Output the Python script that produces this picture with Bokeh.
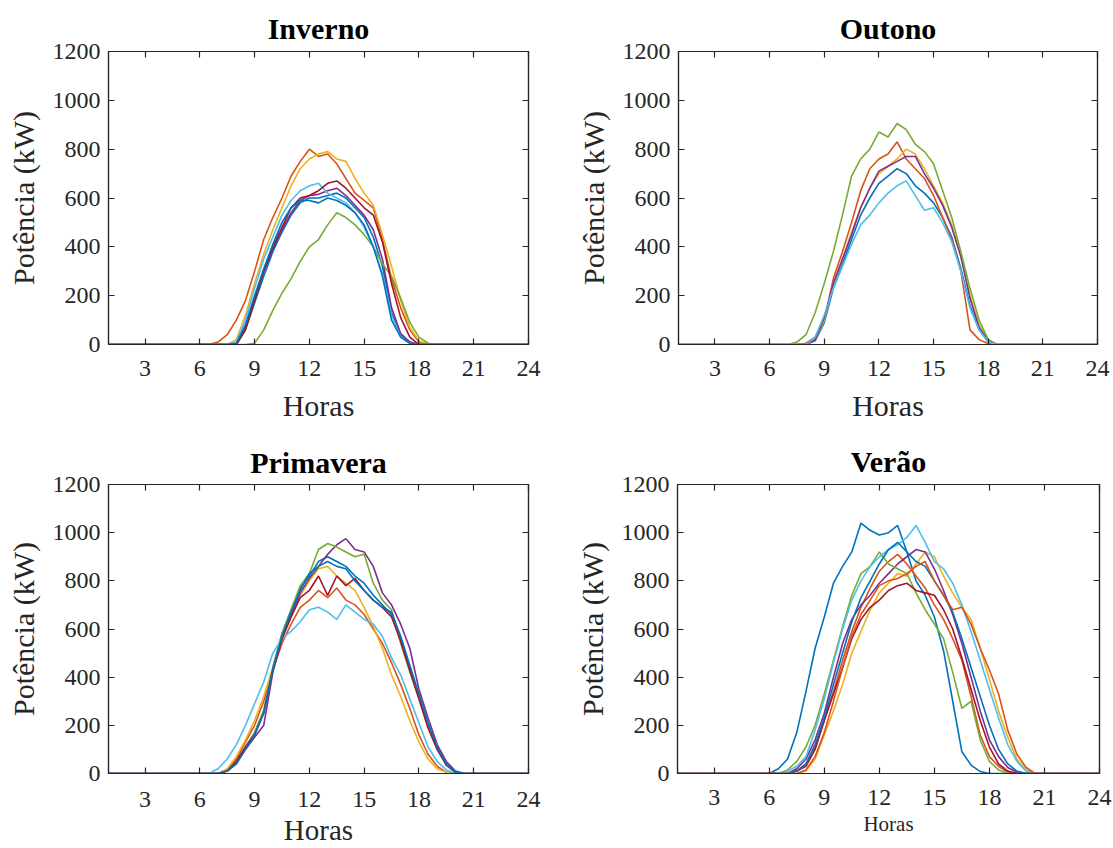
from bokeh.plotting import figure
from bokeh.models import Range1d, FixedTicker, LinearAxis
from bokeh.layouts import column, row
from bokeh.embed import file_html
from bokeh.resources import INLINE

# ---------------- data ----------------
HOURS = [1,
         5.5, 6, 6.5, 7, 7.5, 8,
         8.5, 9, 9.5, 10, 10.5, 11, 11.5, 12, 12.5, 13,
         13.5, 14, 14.5, 15, 15.5, 16, 16.5, 17, 17.5, 18,
         18.5, 19, 19.5, 20, 20.5, 21,
         24]

X_TICKS = [3, 6, 9, 12, 15, 18, 21, 24]
Y_TICKS = [0, 200, 400, 600, 800, 1000, 1200]
X_MIN, X_MAX = 1, 24
Y_MIN, Y_MAX = 0, 1200

COLORS = ["#0072BD", "#D95319", "#EDB120", "#7E2F8E", "#77AC30", "#4DBEEE", "#A2142F"]

# Inverno (8 days)
INV_1 = [0, 0, 0, 0, 0, 0, 0, 60, 170, 280, 380, 460, 530, 580, 600, 600, 610, 620, 600, 560, 520, 440, 320, 130, 40, 10, 0, 0, 0, 0, 0, 0, 0, 0]
INV_2 = [0, 0, 0, 0, 10, 40, 100, 180, 300, 430, 520, 600, 690, 750, 800, 770, 780, 740, 680, 620, 590, 560, 430, 270, 150, 60, 10, 0, 0, 0, 0, 0, 0, 0]
INV_3 = [0, 0, 0, 0, 0, 0, 20, 120, 250, 370, 470, 560, 650, 720, 760, 780, 790, 760, 750, 680, 620, 570, 450, 320, 180, 70, 15, 0, 0, 0, 0, 0, 0, 0]
INV_4 = [0, 0, 0, 0, 0, 0, 0, 70, 190, 300, 390, 470, 540, 590, 610, 615, 630, 640, 610, 570, 530, 470, 350, 150, 45, 10, 0, 0, 0, 0, 0, 0, 0, 0]
INV_5 = [0, 0, 0, 0, 0, 0, 0, 0, 5, 60, 140, 210, 270, 340, 400, 430, 490, 540, 520, 490, 450, 400, 330, 280, 190, 90, 30, 5, 0, 0, 0, 0, 0, 0]
INV_6 = [0, 0, 0, 0, 0, 0, 10, 100, 230, 350, 440, 530, 590, 630, 650, 660, 620, 600, 580, 540, 480, 400, 290, 120, 30, 5, 0, 0, 0, 0, 0, 0, 0, 0]
INV_7 = [0, 0, 0, 0, 0, 0, 0, 60, 180, 300, 400, 480, 560, 600, 610, 630, 660, 670, 640, 600, 560, 530, 420, 250, 110, 30, 0, 0, 0, 0, 0, 0, 0, 0]
INV_8 = [0, 0, 0, 0, 0, 0, 5, 80, 200, 310, 410, 500, 560, 590, 590, 580, 600, 590, 570, 540, 490, 400, 280, 100, 30, 5, 0, 0, 0, 0, 0, 0, 0, 0]

# Outono (6 days)
OUT_1 = [0, 0, 0, 0, 0, 0, 0, 15, 90, 230, 330, 430, 530, 600, 660, 690, 720, 700, 650, 620, 580, 520, 440, 310, 160, 60, 10, 0, 0, 0, 0, 0, 0, 0]
OUT_2 = [0, 0, 0, 0, 0, 0, 5, 30, 100, 270, 380, 500, 630, 720, 760, 780, 830, 760, 720, 680, 610, 520, 430, 300, 60, 20, 3, 0, 0, 0, 0, 0, 0, 0]
OUT_3 = [0, 0, 0, 0, 0, 0, 0, 20, 100, 250, 350, 460, 560, 640, 700, 730, 760, 800, 780, 720, 650, 580, 490, 360, 200, 80, 20, 0, 0, 0, 0, 0, 0, 0]
OUT_4 = [0, 0, 0, 0, 0, 0, 0, 20, 110, 250, 350, 450, 560, 640, 710, 730, 750, 770, 770, 700, 640, 570, 480, 360, 190, 70, 15, 0, 0, 0, 0, 0, 0, 0]
OUT_5 = [0, 0, 0, 0, 0, 10, 40, 130, 250, 380, 530, 690, 760, 800, 870, 850, 905, 880, 820, 790, 740, 630, 520, 380, 230, 100, 20, 0, 0, 0, 0, 0, 0, 0]
OUT_6 = [0, 0, 0, 0, 0, 0, 0, 30, 120, 230, 320, 410, 490, 530, 580, 620, 650, 670, 610, 550, 560, 500, 420, 300, 150, 60, 10, 0, 0, 0, 0, 0, 0, 0]

# Primavera (8 days)
PRI_1 = [0, 0, 0, 0, 0, 10, 50, 110, 170, 260, 440, 580, 680, 770, 820, 880, 900, 880, 860, 820, 790, 740, 700, 660, 560, 440, 320, 200, 110, 40, 5, 0, 0, 0]
PRI_2 = [0, 0, 0, 0, 0, 15, 60, 130, 200, 300, 430, 540, 620, 690, 720, 760, 730, 770, 720, 700, 660, 600, 540, 460, 370, 270, 160, 80, 30, 5, 0, 0, 0, 0]
PRI_3 = [0, 0, 0, 0, 0, 20, 70, 140, 220, 320, 440, 560, 650, 740, 800, 850, 860, 820, 790, 760, 690, 610, 520, 410, 320, 220, 130, 60, 20, 5, 0, 0, 0, 0]
PRI_4 = [0, 0, 0, 0, 0, 10, 40, 100, 150, 200, 420, 560, 660, 750, 810, 860, 910, 950, 975, 930, 920, 860, 750, 700, 620, 520, 350, 230, 120, 50, 10, 0, 0, 0]
PRI_5 = [0, 0, 0, 0, 0, 10, 50, 110, 170, 260, 440, 580, 680, 780, 830, 930, 955, 940, 920, 900, 910, 790, 720, 680, 540, 420, 310, 190, 100, 35, 5, 0, 0, 0]
PRI_6 = [0, 0, 0, 0, 20, 60, 120, 200, 290, 380, 500, 560, 590, 630, 680, 690, 670, 640, 700, 670, 640, 620, 570, 480, 410, 310, 210, 110, 50, 15, 0, 0, 0, 0]
PRI_7 = [0, 0, 0, 0, 0, 10, 50, 110, 160, 250, 430, 560, 650, 730, 760, 820, 740, 820, 780, 810, 760, 720, 690, 650, 550, 430, 310, 190, 100, 35, 5, 0, 0, 0]
PRI_8 = [0, 0, 0, 0, 0, 10, 40, 100, 160, 250, 430, 570, 670, 760, 830, 860, 880, 860, 850, 800, 760, 720, 690, 670, 570, 450, 330, 210, 110, 40, 5, 0, 0, 0]

# Verão (9 days)
VER_1 = [0, 0, 0, 20, 60, 170, 340, 520, 650, 790, 860, 920, 1040, 1010, 990, 1000, 1030, 920, 800, 740, 650, 510, 300, 90, 35, 8, 0, 0, 0, 0, 0, 0, 0, 0]
VER_2 = [0, 0, 0, 0, 0, 10, 40, 110, 220, 340, 470, 590, 690, 770, 840, 880, 910, 870, 820, 770, 700, 640, 560, 470, 320, 160, 70, 30, 5, 0, 0, 0, 0, 0]
VER_3 = [0, 0, 0, 0, 0, 0, 10, 60, 160, 260, 370, 500, 590, 680, 750, 790, 830, 820, 870, 920, 900, 820, 750, 690, 640, 520, 390, 260, 150, 60, 15, 0, 0, 0]
VER_4 = [0, 0, 0, 0, 0, 20, 60, 140, 250, 400, 540, 640, 700, 740, 790, 830, 870, 900, 930, 920, 850, 760, 660, 540, 400, 260, 140, 70, 25, 5, 0, 0, 0, 0]
VER_5 = [0, 0, 0, 0, 15, 50, 110, 200, 330, 470, 610, 740, 830, 860, 920, 870, 850, 830, 750, 680, 620, 560, 420, 270, 300, 140, 50, 15, 0, 0, 0, 0, 0, 0]
VER_6 = [0, 0, 0, 0, 10, 30, 70, 180, 310, 460, 600, 720, 800, 860, 900, 930, 950, 980, 1030, 960, 880, 850, 790, 700, 590, 470, 350, 230, 120, 50, 10, 0, 0, 0]
VER_7 = [0, 0, 0, 0, 0, 10, 30, 100, 220, 330, 440, 560, 640, 690, 720, 760, 780, 790, 760, 750, 740, 680, 600, 480, 350, 220, 110, 40, 10, 0, 0, 0, 0, 0]
VER_8 = [0, 0, 0, 0, 0, 10, 40, 120, 230, 370, 500, 630, 730, 800, 870, 930, 960, 920, 880, 860, 800, 740, 670, 560, 440, 320, 200, 100, 40, 10, 0, 0, 0, 0]
VER_9 = [0, 0, 0, 0, 0, 0, 15, 70, 170, 300, 440, 570, 660, 720, 780, 800, 810, 830, 860, 880, 800, 740, 680, 690, 620, 520, 430, 330, 180, 80, 25, 0, 0, 0]

SEASONS = [
    ("Inverno", [INV_1, INV_2, INV_3, INV_4, INV_5, INV_6, INV_7, INV_8]),
    ("Outono", [OUT_1, OUT_2, OUT_3, OUT_4, OUT_5, OUT_6]),
    ("Primavera", [PRI_1, PRI_2, PRI_3, PRI_4, PRI_5, PRI_6, PRI_7, PRI_8]),
    ("Verão", [VER_1, VER_2, VER_3, VER_4, VER_5, VER_6, VER_7, VER_8, VER_9]),
]

# ---------------- styling ----------------
FONT = "Liberation Serif"
AX_COLOR = "#262626"
TICK_FS = "24px"
LABEL_FS = "30px"
TITLE_FS = "30px"


def style_axis(ax, ticks, show_labels=True):
    ax.ticker = FixedTicker(ticks=ticks)
    ax.major_tick_in = 6
    ax.major_tick_out = 0
    ax.minor_tick_line_color = None
    ax.axis_line_color = AX_COLOR
    ax.major_tick_line_color = AX_COLOR
    ax.axis_line_width = 1.2
    ax.major_tick_line_width = 1.2
    if show_labels:
        ax.major_label_text_font = FONT
        ax.major_label_text_font_size = TICK_FS
        ax.major_label_text_color = AX_COLOR
        ax.axis_label_text_font = FONT
        ax.axis_label_text_font_style = "normal"
        ax.axis_label_text_color = AX_COLOR
    else:
        ax.major_label_text_font_size = "0px"
        ax.major_label_standoff = 0


def make_panel(title, series, width, height, bl, br, bt, bb,
               xlabel_fs, x_std, xl_std, title_std):
    p = figure(width=width, height=height,
               x_range=Range1d(X_MIN, X_MAX), y_range=Range1d(Y_MIN, Y_MAX),
               output_backend="svg", toolbar_location=None,
               min_border_left=bl, min_border_right=br,
               min_border_top=bt, min_border_bottom=bb)
    p.title.text = title
    p.title.align = "center"
    p.title.text_font = FONT
    p.title.text_font_style = "bold"
    p.title.text_font_size = TITLE_FS
    p.title.text_color = "black"
    p.title.standoff = title_std
    p.xgrid.visible = False
    p.ygrid.visible = False
    p.outline_line_color = AX_COLOR
    p.outline_line_width = 1.2
    p.background_fill_color = "white"
    p.border_fill_color = "white"

    for i, vals in enumerate(series):
        p.line(HOURS, vals, line_color=COLORS[i % len(COLORS)], line_width=1.6)

    xa = p.xaxis[0]
    style_axis(xa, X_TICKS)
    xa.axis_label = "Horas"
    xa.axis_label_text_font_size = xlabel_fs
    xa.major_label_standoff = x_std
    xa.axis_label_standoff = xl_std

    ya = p.yaxis[0]
    style_axis(ya, Y_TICKS)
    ya.axis_label = "Potência (kW)"
    ya.axis_label_text_font_size = LABEL_FS
    ya.major_label_standoff = 8
    ya.axis_label_standoff = 10

    # MATLAB-style box: inward ticks on the top and right edges too
    top = LinearAxis()
    style_axis(top, X_TICKS, show_labels=False)
    p.add_layout(top, "above")
    right = LinearAxis()
    style_axis(right, Y_TICKS, show_labels=False)
    p.add_layout(right, "right")
    return p


p1 = make_panel(SEASONS[0][0], SEASONS[0][1], 556, 424, 108, 28, 51, 80,
                LABEL_FS, 16, 10, 13)
p2 = make_panel(SEASONS[1][0], SEASONS[1][1], 557, 424, 122, 16, 51, 80,
                LABEL_FS, 16, 10, 13)
p3 = make_panel(SEASONS[2][0], SEASONS[2][1], 556, 424, 108, 28, 56, 75,
                "29px", 18, 4, 11)
p4 = make_panel(SEASONS[3][0], SEASONS[3][1], 557, 424, 121, 14, 60, 72,
                "21px", 16, 4, 13)

layout = column(row(p1, p2), row(p3, p4))
open("out.html", "w").write(file_html(layout, INLINE))
